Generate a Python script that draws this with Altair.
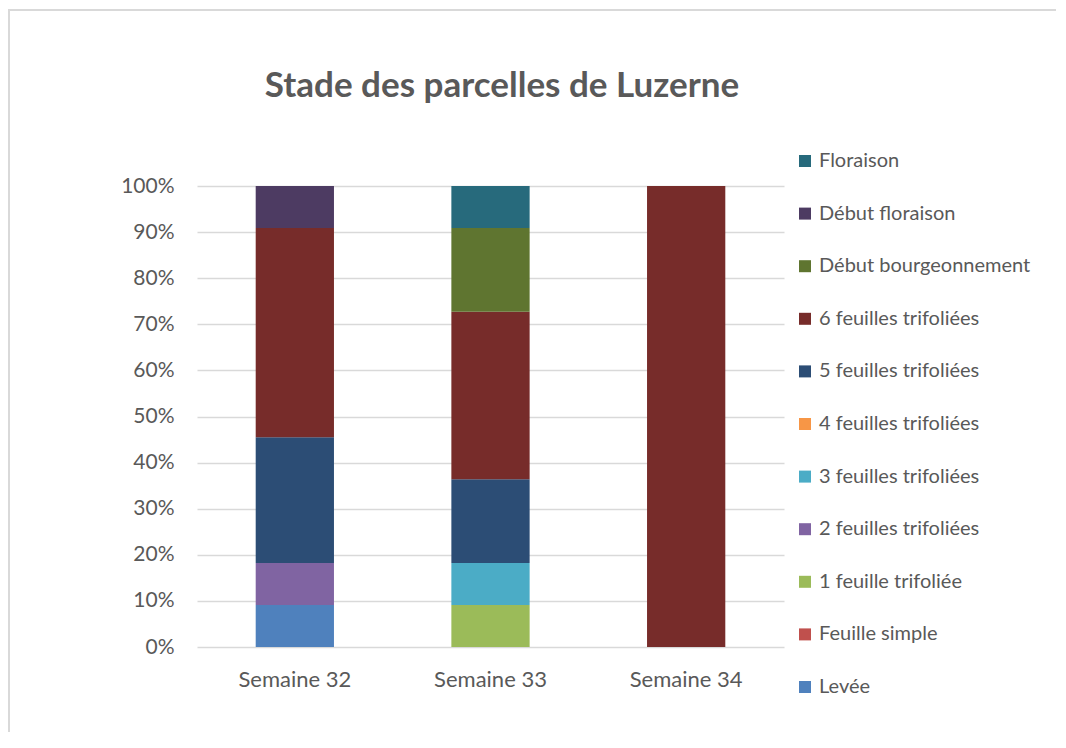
import altair as alt
import pandas as pd

weeks = ["Semaine 32", "Semaine 33", "Semaine 34"]
stages = ["Levée", "Feuille simple", "1 feuille trifoliée", "2 feuilles trifoliées",
          "3 feuilles trifoliées", "4 feuilles trifoliées", "5 feuilles trifoliées",
          "6 feuilles trifoliées", "Début bourgeonnement", "Début floraison", "Floraison"]
colors = ["#4F81BD", "#C0504D", "#9BBB59", "#8064A2", "#4BACC6", "#F79646",
          "#2C4D75", "#772C2A", "#5F7530", "#4D3B62", "#276A7C"]
title_text = ["Stade des parcelles de Luzerne"]

# percentage of parcels per stage, one list per week (order = stages)
s32 = [9.1, 0, 0, 9.1, 0, 0, 27.3, 45.4, 0, 9.1, 0]
s33 = [0, 0, 9.1, 0, 9.1, 0, 18.2, 36.3, 18.2, 0, 9.1]
s34 = [0, 0, 0, 0, 0, 0, 0, 100, 0, 0, 0]

rows = []
for w, vals in zip(weeks, [s32, s33, s34]):
    for i, (s, v) in enumerate(zip(stages, vals)):
        if v > 0:
            rows.append({"week": w, "stage": s, "value": v, "idx": i})
df = pd.DataFrame(rows)

TXT = "#595959"
FONT = "Lato"

bars = alt.Chart(df).mark_bar().encode(
    x=alt.X("week:N", sort=weeks, title=None,
            scale=alt.Scale(paddingInner=0.6),
            axis=alt.Axis(labelAngle=0, labelFontSize=22, labelColor=TXT, labelFont=FONT,
                          labelPadding=22, ticks=False, domain=False, grid=False)),
    y=alt.Y("value:Q", stack="normalize", title=None,
            scale=alt.Scale(domain=[0, 1]),
            axis=alt.Axis(format=".0%", values=[i / 10 for i in range(11)],
                          labelFontSize=21, labelColor=TXT, labelFont=FONT,
                          labelPadding=23, ticks=False, domain=False,
                          gridColor="#d9d9d9", gridWidth=1.5)),
    color=alt.Color("stage:N", title=None,
                    scale=alt.Scale(domain=stages[::-1], range=colors[::-1]),
                    legend=alt.Legend(orient="none", legendX=598, legendY=-35,
                                      symbolType="square", symbolSize=144,
                                      symbolStrokeWidth=0, labelFontSize=20,
                                      labelColor=TXT, labelFont=FONT, labelOffset=4,
                                      rowPadding=32.6, labelLimit=400)),
    order=alt.Order("idx:Q", sort="ascending"),
)

frame = pd.DataFrame({"k": [0]})
top_line = alt.Chart(frame).mark_rule(color="#d9d9d9", strokeWidth=2).encode(
    x=alt.value(-189), x2=alt.value(900), y=alt.value(-176))
left_line = alt.Chart(frame).mark_rule(color="#d9d9d9", strokeWidth=2).encode(
    x=alt.value(-188), y=alt.value(-176), y2=alt.value(600))

title = alt.Chart(pd.DataFrame({"t": title_text})).mark_text(
    font=FONT, fontSize=35, fontWeight="bold", color=TXT, align="center",
    baseline="alphabetic").encode(text="t:N", x=alt.value(305), y=alt.value(-89))

chart = alt.layer(top_line, left_line, title, bars).properties(
    width=587, height=461,
    padding={"left": 189, "top": 178, "right": 272, "bottom": 85},
    autosize=alt.AutoSizeParams(type="none"),
).configure_view(stroke=None)

chart.save("out.html", embed_options={"renderer": "svg", "actions": False})
